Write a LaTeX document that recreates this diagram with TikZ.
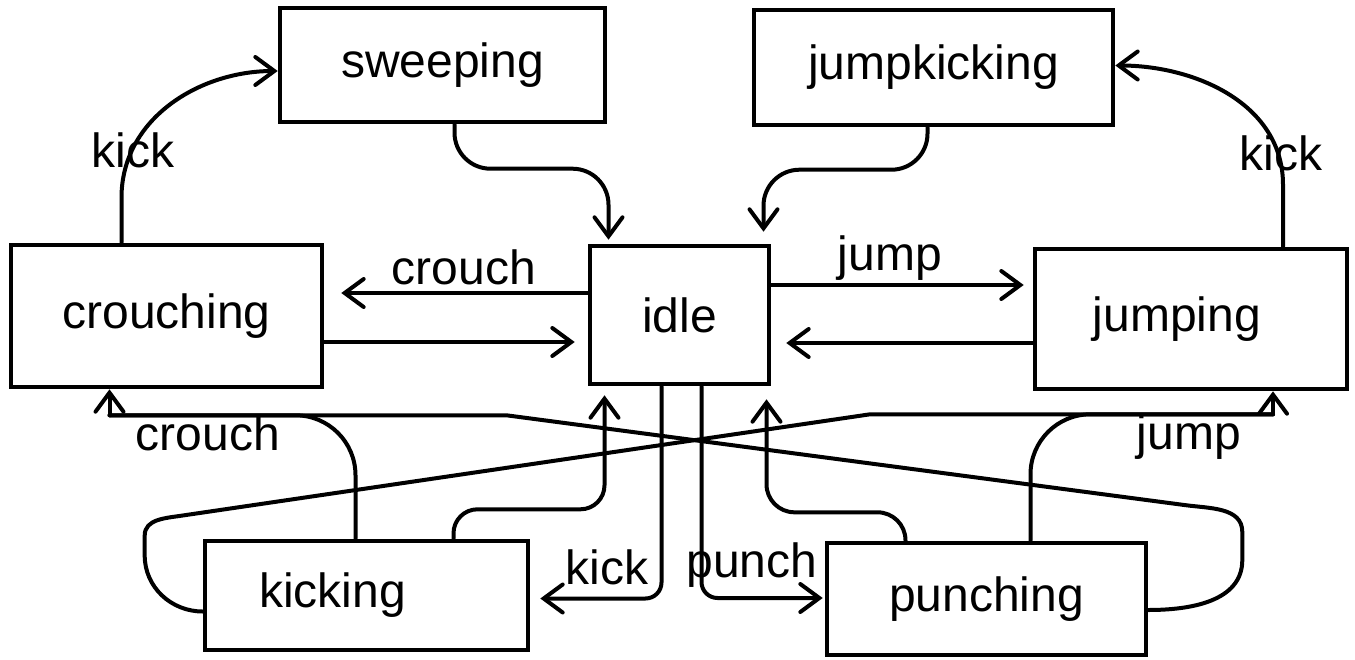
\documentclass[tikz,border=0pt]{standalone}
\usepackage{fontspec}
\setmainfont{Liberation Sans}
\usepackage{xcolor}
\usetikzlibrary{arrows.meta,calc}
\definecolor{ink}{HTML}{000000}
\tikzset{
  >={Straight Barb[length=9.5pt,width=14pt,line cap=round]},
  state/.style={draw=ink,line width=2.3pt,inner sep=0pt,font=\fontsize{24}{28}\selectfont},
  wire/.style={line width=2pt,color=ink,line cap=round,line join=round},
  flow/.style={wire,->},
  lbl/.style={inner sep=0pt,text=ink,font=\fontsize{24}{28}\selectfont},
}

\begin{document}
\begin{tikzpicture}[x=0.5pt,y=-0.5pt]
  \useasboundingbox (0,0) rectangle (1355,659);
  \node[state,minimum width=162.5pt,minimum height=57pt] (sweeping) at (442.5,65) {sweeping};
  \node[state,minimum width=179.5pt,minimum height=57.5pt] (jumpkicking) at (933.5,67.5) {jumpkicking};
  \node[state,minimum width=155.5pt,minimum height=71pt] (crouching) at (166.5,316) {crouching};
  \node[state,minimum width=89.5pt,minimum height=69pt] (idle) at (679.5,315) {idle};
  \node[state,minimum width=156pt,minimum height=70pt] (jumping) at (1191,319) {jumping\hspace*{14pt}};
  \node[state,minimum width=161.5pt,minimum height=54.5pt] (kicking) at (366.5,595.5) {kicking\hspace*{34pt}};
  \node[state,minimum width=159.5pt,minimum height=56pt] (punching) at (986.5,599) {punching};

  \coordinate (crouchjoin) at ($(crouching.south)+(-57,26)$);
  \coordinate (jumpjoin) at ($(jumping.south)+(82,23)$);

  \draw[flow] ($(crouching.north)+(-45,0)$) -- ++(0,-45) to[out=90,in=180] ($(sweeping.west)+(0,6)$);
  \draw[flow,rounded corners=18pt,shorten >=2pt] ($(sweeping.south)+(12,0)$) |- ($(idle.north)+(-71,-75)$) -- ($(idle.north)+(-71,0)$);
  \draw[flow,rounded corners=18pt,shorten >=6pt] ($(jumpkicking.south)+(-6,0)$) |- ($(idle.north)+(84,-74)$) -- ($(idle.north)+(84,0)$);
  \draw[flow] ($(jumping.north)+(92,0)$) -- ++(0,-62) to[out=90,in=0] ($(jumpkicking.east)+(0,-2)$);

  \draw[flow,shorten >=8.5pt] ($(idle.west)+(0,-22)$) -- ($(crouching.east)+(0,-23)$);
  \draw[flow,shorten >=6.5pt] ($(crouching.east)+(0,26)$) -- ($(idle.west)+(0,27)$);
  \draw[flow,shorten >=4.5pt] ($(idle.east)+(0,-30)$) -- ($(jumping.west)+(0,-34)$);
  \draw[flow,shorten >=7.5pt] ($(jumping.west)+(0,24)$) -- ($(idle.east)+(0,28)$);

  \draw[flow,rounded corners=8pt,shorten >=5pt] ($(idle.south)+(-18,0)$) |- ($(kicking.east)+(0,3)$);
  \draw[flow,rounded corners=8pt,shorten >=1pt] ($(idle.south)+(22,0)$) |- ($(punching.west)+(0,-1)$);
  \draw[flow,rounded corners=12pt,shorten >=4.5pt] ($(kicking.north)+(87,0)$) |- ($(idle.south)+(-75,123)$) -- ($(idle.south)+(-75,0)$);
  \draw[flow,rounded corners=14pt,shorten >=6.5pt] ($(punching.north)+(-81,0)$) |- ($(idle.south)+(87,126)$) -- ($(idle.south)+(87,0)$);

  \draw[wire,rounded corners=30pt] ($(kicking.north)+(-11,0)$) |- (crouchjoin);
  \draw[wire] ($(punching.east)+(0,11)$) to[out=0,in=-90] ($(punching.east)+(94,-39)$) -- ($(punching.east)+(94,-67)$) to[out=90,in=-8] ($(punching.east)+(36,-94)$) -- ($(crouching.south)+(340,26)$) -- (crouchjoin);
  \draw[flow] (crouchjoin) -- (crouchjoin |- crouching.south);
  \draw[wire] ($(kicking.west)+(0,16)$) to[out=180,in=-90] ($(kicking.west)+(-58,-40)$) -- ($(kicking.west)+(-58,-60)$) to[out=90,in=-171] ($(kicking.west)+(-20,-80)$) -- ($(jumping.south)+(-321,23)$) -- (jumpjoin);
  \draw[wire,rounded corners=30pt] ($(punching.north)+(44,0)$) |- (jumpjoin);
  \draw[flow] (jumpjoin) -- (jumpjoin |- jumping.south);

  \node[lbl] (lkicka) at (133,150) {kick};
  \node[lbl] (lcroucha) at (464,267) {crouch};
  \node[lbl] (ljumpa) at (890,258) {jump};
  \node[lbl] (lkickb) at (1281,153) {kick};
  \node[lbl] (lcrouchb) at (208,433) {crouch};
  \node[lbl] (ljumpb) at (1189,437) {jump};
  \node[lbl] (lkickc) at (607,567) {kick};
  \node[lbl] (lpunch) at (752,565) {punch};
\end{tikzpicture}
\end{document}
